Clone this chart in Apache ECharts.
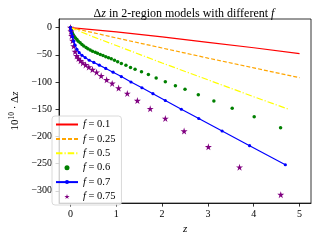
<!DOCTYPE html>
<html><head><meta charset="utf-8">
<script src="https://cdn.jsdelivr.net/npm/echarts@6/dist/echarts.min.js"></script>
<style>html,body{margin:0;padding:0;background:#fff}#c{width:320px;height:240px}</style>
</head><body><div id="c"></div>
<script>
const xTicks = [0, 1, 2, 3, 4, 5];
const yTicks = [0, -50, -100, -150, -200, -250, -300];

const redZ = [0, 1, 2, 3, 4, 5];
const redY = [0, -8, -17, -27, -37, -48];

const orangeZ = [0, 1, 2, 3, 4, 5];
const orangeY = [0, -19, -37.5, -56, -74, -92];

const yellowZ = [0, 0.5, 1, 2, 3, 4, 4.76];
const yellowY = [0, -17, -33, -65, -96, -127, -150];

const greenZ = [0, 0.01, 0.025, 0.04, 0.06, 0.08, 0.11, 0.14, 0.17, 0.21, 0.25, 0.29, 0.34, 0.38, 0.43, 0.48, 0.54, 0.59, 0.65, 0.71, 0.77, 0.83, 0.89, 0.96, 1.03, 1.11, 1.21, 1.31, 1.41, 1.55, 1.70, 1.87, 2.07, 2.29, 2.50, 2.79, 3.13, 3.53, 4.01, 4.586];
const greenY = [0, -3, -7, -10, -13, -16, -19, -22, -25, -28, -31, -34, -36.5, -39, -41, -43.5, -45.5, -47, -49.5, -51.5, -53.5, -55.5, -57.3, -59.8, -62.7, -65.8, -69.4, -73.2, -76.6, -81, -86.2, -92.4, -99.3, -107, -113.4, -123.3, -135, -148, -164, -184];

const blueZ = [0, 0.01, 0.025, 0.045, 0.07, 0.1, 0.14, 0.19, 0.25, 0.32, 0.41, 0.51, 0.63, 0.77, 0.93, 1.11, 1.32, 1.56, 1.8, 2.07, 2.42, 2.80, 3.31, 3.91, 4.69];
const blueY = [0, -5, -11, -17, -25, -32, -40, -46, -51, -55, -60, -64, -69, -75, -82, -90, -100, -110.5, -121.5, -134, -150, -167, -190, -217, -252];

const purpleZ = [0, 0.01, 0.025, 0.045, 0.07, 0.10, 0.135, 0.175, 0.22, 0.27, 0.33, 0.40, 0.48, 0.57, 0.67, 0.79, 0.91, 1.05, 1.24, 1.46, 1.74, 2.07, 2.48, 3.01, 3.69, 4.59];
const purpleY = [0, -7, -15, -24, -34, -44, -52, -57, -61, -65, -68.5, -72.5, -77, -82, -88.5, -96, -102.5, -111, -121, -134, -149, -167, -190, -219, -256.5, -307];

const names = ['f = 0.1', 'f = 0.25', 'f = 0.5', 'f = 0.6', 'f = 0.7', 'f = 0.75'];

const zip = (a, b) => a.map((v, i) => [v, b[i]]);
const star = 'path://M50,0 L61,35 L98,35 L68,57 L79,91 L50,70 L21,91 L32,57 L2,35 L39,35 Z';
const FONT = 'Liberation Serif';
const minus = v => String(v).replace('-', '\u2212');
const noSym = {color: 'rgba(0,0,0,0)', borderWidth: 0, opacity: 0};

const chart = echarts.init(document.getElementById('c'), null, {renderer: 'canvas'});
chart.setOption({
  animation: false,
  backgroundColor: '#fff',
  title: {
    text: '{n|Δ}{i|z}{n| in 2-region models with different }{i|f}',
    left: 179, top: 3, textAlign: 'center',
    textStyle: {
      fontWeight: 'normal',
      rich: {
        n: {fontFamily: FONT, fontSize: 12, fontWeight: 'normal', color: '#000'},
        i: {fontFamily: FONT, fontSize: 12, fontWeight: 'normal', fontStyle: 'italic', color: '#000'}
      }
    }
  },
  grid: {left: 47, right: 9, top: 19, bottom: 34, show: true, borderColor: '#000', borderWidth: 0.8, backgroundColor: 'transparent'},
  legend: {
    orient: 'vertical', left: 52, top: 116,
    itemWidth: 22, itemHeight: 5, itemGap: 3.4,
    padding: [3, 6, 3, 3],
    backgroundColor: 'rgba(255,255,255,0.8)',
    borderColor: '#d0d0d0', borderWidth: 0.8, borderRadius: 3,
    data: [
      {name: names[0], itemStyle: noSym},
      {name: names[1], itemStyle: noSym},
      {name: names[2], itemStyle: noSym},
      {name: names[3]},
      {name: names[4]},
      {name: names[5]}
    ],
    formatter: n => '{i|f}{n|' + n.slice(1) + '}',
    textStyle: {
      lineHeight: 10,
      rich: {
        n: {fontFamily: FONT, fontSize: 10.5, color: '#000', lineHeight: 10},
        i: {fontFamily: FONT, fontSize: 10.5, fontStyle: 'italic', color: '#000', lineHeight: 10}
      }
    }
  },
  xAxis: {
    type: 'value', min: -0.25, max: 5.25,
    name: 'z', nameLocation: 'middle', nameGap: 20,
    nameTextStyle: {fontFamily: FONT, fontSize: 11, fontStyle: 'italic', color: '#000'},
    axisLine: {show: true, onZero: false, lineStyle: {color: '#000', width: 0.8}},
    axisTick: {show: true, length: 3.5, customValues: xTicks, lineStyle: {color: '#000', width: 0.8}},
    axisLabel: {customValues: xTicks, margin: 6, fontFamily: FONT, fontSize: 10, color: '#000', formatter: minus},
    splitLine: {show: false}
  },
  yAxis: {
    type: 'value', min: -322.5, max: 15.8,
    name: '{n|10}{s|10}{n| · Δ}{i|z}', nameLocation: 'middle', nameGap: 31, nameRotate: 90,
    nameTextStyle: {
      rich: {
        n: {fontFamily: FONT, fontSize: 11, color: '#000'},
        s: {fontFamily: FONT, fontSize: 7.5, color: '#000', verticalAlign: 'top', padding: [0, 0, 6, 0]},
        i: {fontFamily: FONT, fontSize: 11, fontStyle: 'italic', color: '#000'}
      }
    },
    axisLine: {show: true, onZero: false, lineStyle: {color: '#000', width: 0.8}},
    axisTick: {show: true, length: 3.5, customValues: yTicks, lineStyle: {color: '#000', width: 0.8}},
    axisLabel: {customValues: yTicks, margin: 7, fontFamily: FONT, fontSize: 10, color: '#000', formatter: minus},
    splitLine: {show: false}
  },
  series: [
    {name: names[0], type: 'line', data: zip(redZ, redY), symbol: 'none', lineStyle: {color: '#ff0000', width: 1.2}, itemStyle: {color: '#ff0000'}},
    {name: names[1], type: 'line', data: zip(orangeZ, orangeY), symbol: 'none', lineStyle: {color: '#ffa500', width: 1.2, type: [4, 2]}, itemStyle: {color: '#ffa500'}},
    {name: names[2], type: 'line', data: zip(yellowZ, yellowY), symbol: 'none', lineStyle: {color: '#ffff00', width: 1.2, type: [6.5, 2, 1.2, 2]}, itemStyle: {color: '#ffff00'}},
    {name: names[3], type: 'scatter', data: zip(greenZ, greenY), symbol: 'circle', symbolSize: 3.5, itemStyle: {color: '#008000', opacity: 1}},
    {name: names[4], type: 'line', data: zip(blueZ, blueY), symbol: 'circle', symbolSize: 3.2, showSymbol: true, lineStyle: {color: '#0000ff', width: 1.2}, itemStyle: {color: '#0000ff', borderWidth: 0}},
    {name: names[5], type: 'scatter', data: zip(purpleZ, purpleY), symbol: star, symbolSize: 7, itemStyle: {color: '#800080', opacity: 1}}
  ]
});
</script></body></html>
